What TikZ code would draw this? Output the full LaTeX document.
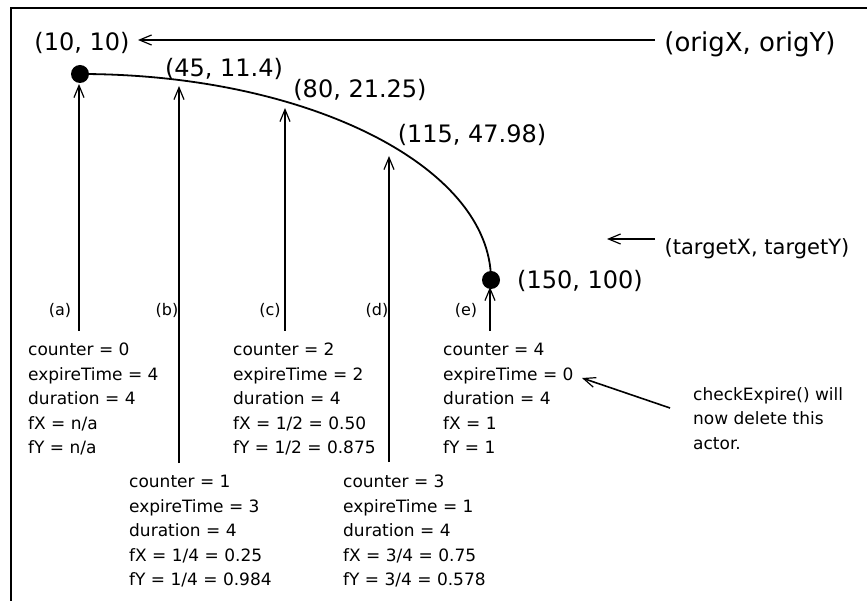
\documentclass[tikz,border=0pt]{standalone}
\usepackage{fontspec}
\setmainfont{DejaVu Sans}
\usetikzlibrary{arrows.meta}
\begin{document}
\begin{tikzpicture}[x=1pt,y=-1pt,
  line/.style={line width=1.8pt},
  arr/.style={line width=1.6pt,-{Straight Barb[length=12pt,width=10pt,line width=1.2pt]}},
  coordlab/.style={font=\fontsize{24}{28}\selectfont, inner sep=0pt},
  biglab/.style={font=\fontsize{26}{30}\selectfont, inner sep=0pt},
  midlab/.style={font=\fontsize{21}{25}\selectfont, inner sep=0pt},
  info/.style={font=\fontsize{17}{24.5}\selectfont, align=left, inner sep=0pt, anchor=north west},
  tag/.style={font=\fontsize{16}{18}\selectfont, inner sep=0pt},
  dot/.style={circle, fill=black, inner sep=0pt, minimum size=18pt}]
\useasboundingbox (0,0) rectangle (867,601);
% frame
\draw[line width=2pt] (11,601) -- (11,8) -- (867,8);
% curve and dots
\node[dot] (d0) at (80,74) {};
\node[dot] (d4) at (491,280) {};
\draw[line] (d0.center) arc[start angle=-90, end angle=0, x radius=411, y radius=206];
% coordinate labels
\node[coordlab] (c0) at (82,43) {(10, 10)};
\node[coordlab] (c1) at (224,69) {(45, 11.4)};
\node[coordlab] (c2) at (360,90) {(80, 21.25)};
\node[coordlab] (c3) at (472,135) {(115, 47.98)};
\node[coordlab] (c4) at (580,281) {(150, 100)};
\node[biglab] (orig) at (750,44) {(origX, origY)};
\node[midlab] (targ) at (757,249) {(targetX, targetY)};
% arrows to labels
\coordinate (origtip) at (138,40);
\coordinate (origstart) at (655,40);
\draw[arr] (origstart) -- (origtip);
\coordinate (targstart) at (655,239);
\coordinate (targtip) at (607,239);
\draw[arr] (targstart) -- (targtip);
% tags
\node[tag] (ta) at (60,310) {(a)};
\node[tag] (tb) at (167,310) {(b)};
\node[tag] (tc) at (270,310) {(c)};
\node[tag] (td) at (377,310) {(d)};
\node[tag] (te) at (466,310) {(e)};
% vertical arrows
\coordinate (ba) at (79,331);  \coordinate (pa) at (79,84);
\coordinate (bb) at (179,463); \coordinate (pb) at (179,86);
\coordinate (bc) at (285,331); \coordinate (pc) at (285,108);
\coordinate (bd) at (389,462); \coordinate (pd) at (389,156);
\coordinate (be) at (490,331); \coordinate (pe) at (490,287);
\draw[arr] (ba) -- (pa);
\draw[arr] (bb) -- (pb);
\draw[arr] (bc) -- (pc);
\draw[arr] (bd) -- (pd);
\draw[arr] (be) -- (pe);
% info blocks
\node[info] (ia) at (28,343) {counter = 0\\expireTime = 4\\duration = 4\\fX = n/a\\fY = n/a};
\node[info] (ic) at (233,343) {counter = 2\\expireTime = 2\\duration = 4\\fX = 1/2 = 0.50\\fY = 1/2 = 0.875};
\node[info] (ie) at (443,343) {counter = 4\\expireTime = 0\\duration = 4\\fX = 1\\fY = 1};
\node[info] (ib) at (129,475) {counter = 1\\expireTime = 3\\duration = 4\\fX = 1/4 = 0.25\\fY = 1/4 = 0.984};
\node[info] (id) at (343,475) {counter = 3\\expireTime = 1\\duration = 4\\fX = 3/4 = 0.75\\fY = 3/4 = 0.578};
\node[info] (note) at (693,387) {checkExpire() will\\now delete this\\actor.};
% note arrow
\coordinate (notestart) at (670,408);
\coordinate (notetip) at (582,378);
\draw[arr] (notestart) -- (notetip);
\end{tikzpicture}
\end{document}
